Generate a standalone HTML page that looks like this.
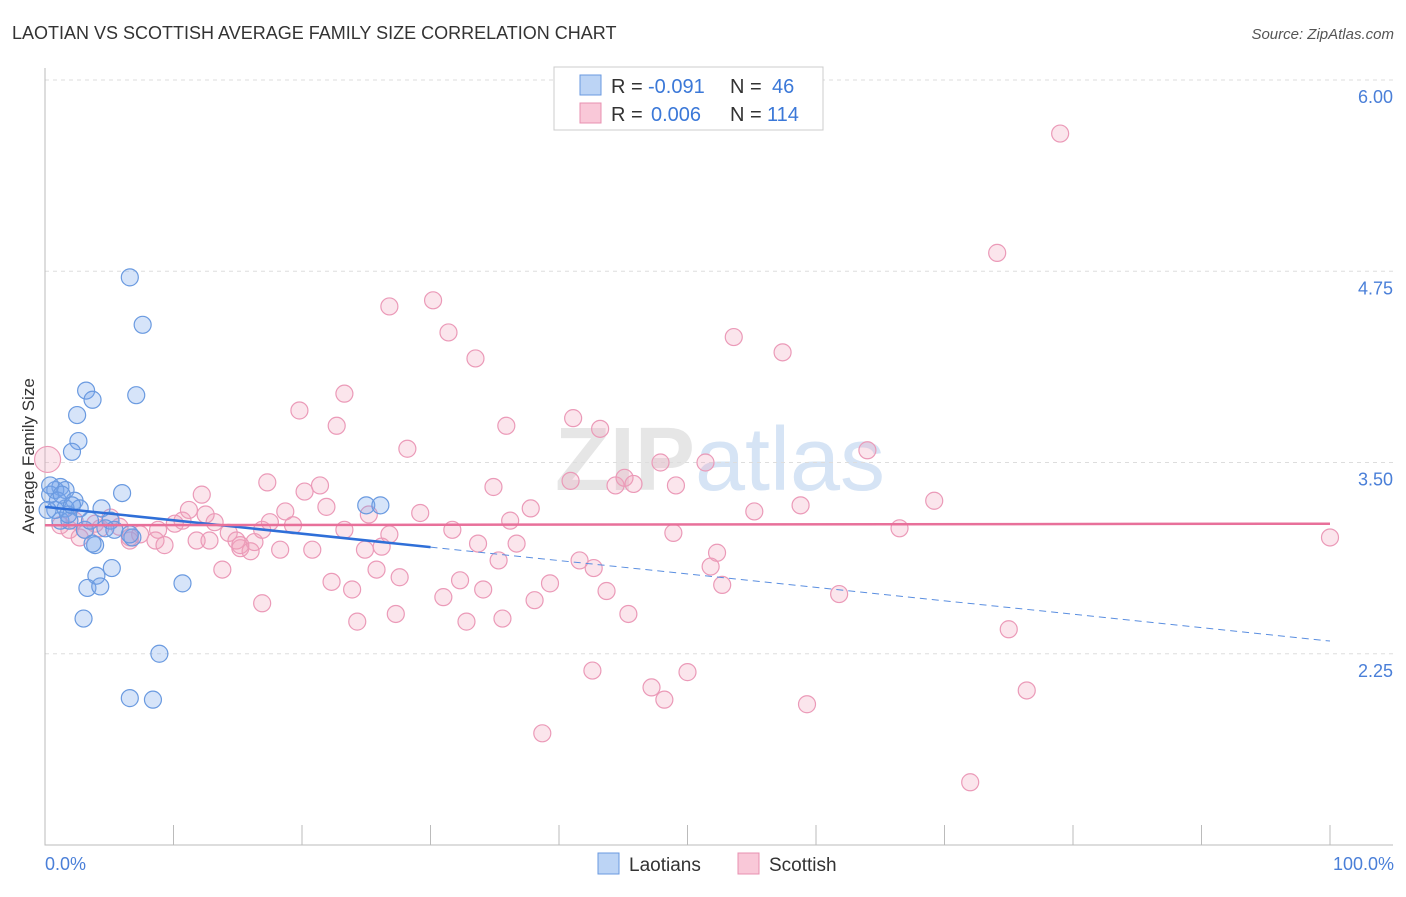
<!DOCTYPE html>
<html><head><meta charset="utf-8">
<style>
body{margin:0;background:#fff;font-family:"Liberation Sans",sans-serif;}
svg text{font-family:"Liberation Sans",sans-serif;}
</style></head>
<body>
<svg id="chart" width="1406" height="892" xmlns="http://www.w3.org/2000/svg">
<text x="12" y="39" font-size="18" fill="#333">LAOTIAN VS SCOTTISH AVERAGE FAMILY SIZE CORRELATION CHART</text>
<text x="1394" y="39" font-size="15" fill="#555" font-style="italic" text-anchor="end">Source: ZipAtlas.com</text>
<text x="720" y="490" font-size="90" text-anchor="middle" fill="#e6e6e6" font-weight="bold">ZIP<tspan fill="#d6e4f5" font-weight="normal">atlas</tspan></text>
<g id="grid"></g>
<g id="axes"></g>
<g id="pts"></g>
<g id="trends"></g>
<text transform="translate(34,456) rotate(-90)" font-size="17" fill="#333" text-anchor="middle">Average Family Size</text>
<text x="45" y="870" font-size="18" fill="#4a7fd8">0.0%</text>
<text x="1394" y="870" font-size="18" fill="#4a7fd8" text-anchor="end">100.0%</text>
<g>
<rect x="554" y="67" width="269" height="63" fill="#fff" stroke="#ccc"/>
<rect x="580" y="75" width="21" height="20" fill="#bcd4f5" stroke="#6a9ae0"/>
<rect x="580" y="103" width="21" height="20" fill="#f9c8d8" stroke="#e890b0"/>
<text x="611" y="93" font-size="20" fill="#333">R =</text>
<text x="648" y="93" font-size="20" fill="#3b78d8">-0.091</text>
<text x="730" y="93" font-size="20" fill="#333">N =</text>
<text x="772" y="93" font-size="20" fill="#3b78d8">46</text>
<text x="611" y="121" font-size="20" fill="#333">R =</text>
<text x="651" y="121" font-size="20" fill="#3b78d8">0.006</text>
<text x="730" y="121" font-size="20" fill="#333">N =</text>
<text x="767" y="121" font-size="20" fill="#3b78d8">114</text>
</g>
<g>
<rect x="598" y="853" width="21" height="21" fill="#bcd4f5" stroke="#6a9ae0"/>
<text x="629" y="871" font-size="19" fill="#333">Laotians</text>
<rect x="738" y="853" width="21" height="21" fill="#f9c8d8" stroke="#e890b0"/>
<text x="769" y="871" font-size="19" fill="#333">Scottish</text>
</g>
</svg>
<script>
const yTicks=[6.00,4.75,3.50,2.25];
const yTickLabels=["6.00","4.75","3.50","2.25"];
const xTicks=[0,10,20,30,40,50,60,70,80,90,100];
const laoX=[6.6,7.6,3.2,7.1,3.7,2.5,2.6,2.1,6.0,1.2,0.8,0.4,1.6,2.3,2.7,1.6,1.2,1.9,4.4,5.1,4.7,6.8,3.9,3.7,5.2,4.0,3.3,4.3,10.7,3.0,8.9,6.6,8.4,25.0,26.1,0.8,0.4,1.8,1.0,0.2,1.3,2.1,3.1,6.6,5.4,3.5];
const laoY=[4.71,4.40,3.97,3.94,3.91,3.81,3.64,3.57,3.30,3.34,3.32,3.29,3.32,3.25,3.20,3.20,3.12,3.12,3.20,3.12,3.07,3.01,2.96,2.97,2.81,2.76,2.68,2.69,2.71,2.48,2.25,1.96,1.95,3.22,3.22,3.19,3.35,3.16,3.25,3.19,3.29,3.22,3.06,3.03,3.06,3.12];
const scoX=[79.0,74.1,26.8,30.2,31.4,33.5,53.6,57.4,23.3,19.8,22.7,41.1,35.9,43.2,28.2,64.0,47.9,51.4,40.9,44.4,45.1,45.8,49.1,34.9,17.3,21.4,20.2,12.2,69.2,58.8,11.2,25.2,21.9,29.2,37.8,55.2,36.2,18.7,17.5,10.7,10.1,19.3,13.2,31.7,48.9,66.5,8.8,5.8,4.3,3.1,1.9,1.2,2.7,6.6,8.6,9.3,11.8,12.8,14.3,14.9,15.2,16.0,16.3,18.3,20.8,24.9,26.2,33.7,36.7,52.3,100,35.3,41.6,51.8,42.7,13.8,25.8,27.6,32.3,22.3,23.9,39.3,34.1,31.0,43.7,52.7,61.8,38.1,16.9,27.3,45.4,24.3,32.8,35.6,75.0,42.6,50.0,47.2,48.2,59.3,76.4,38.7,72.0,0.2,7.4,5.1,12.5,16.9,23.3,26.8,6.6,3.9,2.3,15.2];
const scoY=[5.65,4.87,4.52,4.56,4.35,4.18,4.32,4.22,3.95,3.84,3.74,3.79,3.74,3.72,3.59,3.58,3.50,3.50,3.38,3.35,3.40,3.36,3.35,3.34,3.37,3.35,3.31,3.29,3.25,3.22,3.19,3.16,3.21,3.17,3.20,3.18,3.12,3.18,3.11,3.12,3.10,3.09,3.11,3.06,3.04,3.07,3.06,3.08,3.07,3.06,3.06,3.09,3.01,3.01,2.99,2.96,2.99,2.99,3.04,2.99,2.94,2.92,2.98,2.93,2.93,2.93,2.95,2.97,2.97,2.91,3.01,2.86,2.86,2.82,2.81,2.80,2.80,2.75,2.73,2.72,2.67,2.71,2.67,2.62,2.66,2.70,2.64,2.60,2.58,2.51,2.51,2.46,2.46,2.48,2.41,2.14,2.13,2.03,1.95,1.92,2.01,1.73,1.41,3.52,3.03,3.14,3.16,3.06,3.06,3.03,2.99,3.10,3.12,2.96];
const laoTrend=[3.21,2.333];
const scoTrend=[3.09,3.10];
const ns="http://www.w3.org/2000/svg";
const X=p=>45+p*12.85, Y=v=>80+(6-v)*153;
function mk(t,a,parent){const e=document.createElementNS(ns,t);for(const k in a)e.setAttribute(k,a[k]);parent.appendChild(e);return e;}
const grid=document.getElementById('grid'),axes=document.getElementById('axes'),pts=document.getElementById('pts'),tr=document.getElementById('trends');
yTicks.forEach((v,i)=>{
 const l=mk('line',{x1:45,x2:1393,y1:Y(v),y2:Y(v),stroke:'#ddd','stroke-dasharray':'4,4'},grid);
 
 
 const t=mk('text',{x:1393,y:Y(v)+23,'font-size':18,fill:'#4a7fd8','text-anchor':'end'},grid);
 t.textContent=yTickLabels[i];
 
 
});
const ax=mk('path',{d:'M45,68 V845 H1393',fill:'none',stroke:'#bbb'},axes);


xTicks.forEach(p=>{
 const l=mk('line',{x1:X(p),x2:X(p),y1:825,y2:845,stroke:'#bbb'},axes);
 
 
});
scoX.forEach((x,i)=>{
 const c=mk('circle',{cx:X(x),cy:Y(scoY[i]),r:i==103?13:8.5,fill:'rgba(242,160,188,0.28)',stroke:'#eb9ab8','stroke-width':1.2},pts);
 
 
});
laoX.forEach((x,i)=>{
 const c=mk('circle',{cx:X(x),cy:Y(laoY[i]),r:8.5,fill:'rgba(120,165,235,0.3)',stroke:'#6a9ae0','stroke-width':1.2},pts);
 
 
});
const ly=p=>laoTrend[0]+(laoTrend[1]-laoTrend[0])*p/100;
const t1=mk('line',{x1:X(0),y1:Y(ly(0)),x2:X(30),y2:Y(ly(30)),stroke:'#2f6fd8','stroke-width':2.5},tr);


const t2=mk('line',{x1:X(30),y1:Y(ly(30)),x2:X(100),y2:Y(ly(100)),stroke:'#5a8ee0','stroke-width':1,'stroke-dasharray':'7,5'},tr);


const t3=mk('line',{x1:X(0),y1:Y(scoTrend[0]),x2:X(100),y2:Y(scoTrend[1]),stroke:'#e8709a','stroke-width':2.5},tr);


</script>
</body></html>
